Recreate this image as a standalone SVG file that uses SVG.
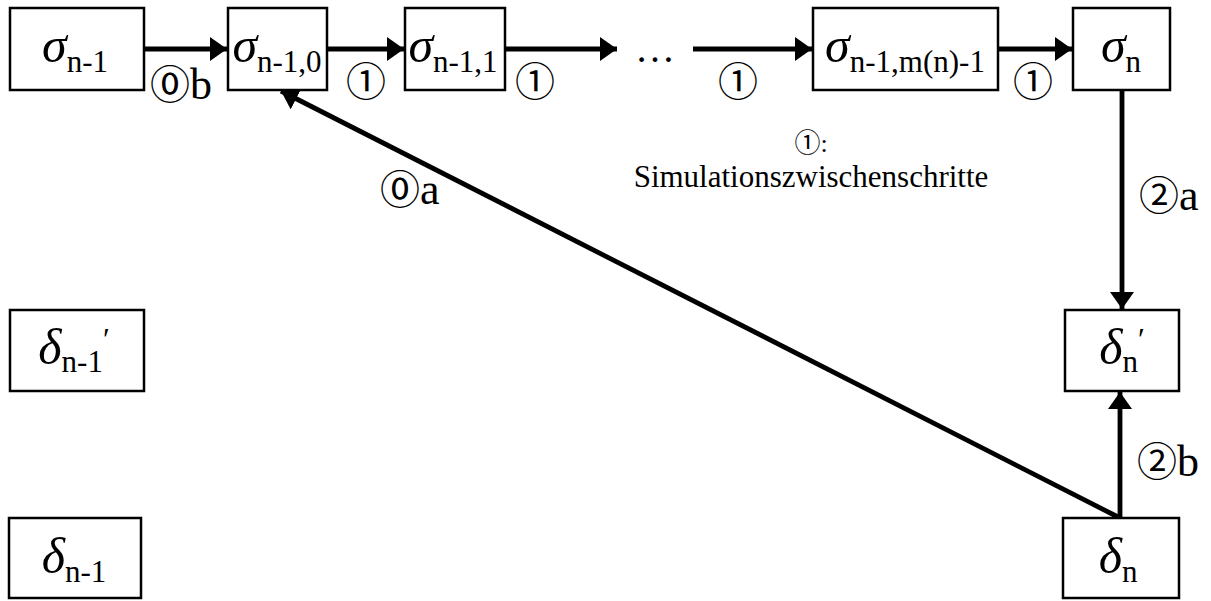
<svg xmlns="http://www.w3.org/2000/svg" width="1211" height="601" viewBox="0 0 1211 601">
<style>
.box{fill:#fff;stroke:#000;stroke-width:2.5}
.main{font-family:"Liberation Serif","Times New Roman",serif;font-style:italic;font-size:50px}
tspan.sub{font-family:"Liberation Serif","Times New Roman",serif;font-style:normal;font-size:31px}
.lbl{font-family:"Liberation Serif","Times New Roman",serif;font-size:44px}
tspan.circ,text.circ{font-family:"Noto Sans CJK JP","DejaVu Sans",sans-serif;font-size:40px}
.note{font-family:"Liberation Serif","Times New Roman",serif;font-size:31px}
.conn{stroke:#000;stroke-width:4.8;fill:none}
</style>
<defs>
<marker id="ah" markerUnits="userSpaceOnUse" markerWidth="20" markerHeight="26" refX="17" refY="12" orient="auto">
<path d="M0,0 L17,12 L0,24 Z" fill="#000"/>
</marker>
</defs>
<rect width="1211" height="601" fill="#fff"/>
<g id="connectors">
<line class="conn" x1="144" y1="49" x2="227" y2="49" marker-end="url(#ah)"/>
<line class="conn" x1="327" y1="49" x2="404" y2="49" marker-end="url(#ah)"/>
<line class="conn" x1="505" y1="49" x2="617" y2="49" marker-end="url(#ah)"/>
<line class="conn" x1="693" y1="49" x2="812" y2="49" marker-end="url(#ah)"/>
<line class="conn" x1="998" y1="49" x2="1072" y2="49" marker-end="url(#ah)"/>
<line class="conn" x1="1122" y1="90" x2="1122" y2="309" marker-end="url(#ah)"/>
<line class="conn" x1="1120" y1="518" x2="1120" y2="392" marker-end="url(#ah)"/>
<line class="conn" x1="1120" y1="518" x2="281" y2="91" marker-end="url(#ah)"/>
<text class="lbl" x="150" y="99"><tspan class="circ">⓪</tspan>b</text>
<text class="circ" x="346" y="96">①</text>
<text class="circ" x="515" y="96">①</text>
<text class="circ" x="718" y="96">①</text>
<text class="circ" x="1013" y="96">①</text>
<text class="lbl" x="380" y="204"><tspan class="circ">⓪</tspan>a</text>
<text class="lbl" x="1139" y="210"><tspan class="circ">②</tspan>a</text>
<text class="lbl" x="1137" y="476"><tspan class="circ">②</tspan>b</text>
<text x="655" y="62" text-anchor="middle" style="font-family:'Liberation Serif',serif;font-size:40px">…</text>
<text x="811" y="152" text-anchor="middle" style="font-family:'Liberation Serif',serif;font-size:26px"><tspan style="font-family:'Noto Sans CJK JP',sans-serif">①</tspan>:</text>
<text class="note" x="811" y="187" text-anchor="middle">Simulationszwischenschritte</text>
</g>
<g id="sigma_n-1">
<rect class="box" x="10" y="8" width="134" height="82"/>
<text class="main" x="75" y="62" text-anchor="middle">σ<tspan class="sub" dy="10">n-1</tspan></text>
</g>
<g id="sigma_n-1_0">
<rect class="box" x="228" y="8" width="99" height="82"/>
<text class="main" x="277" y="62" text-anchor="middle">σ<tspan class="sub" dy="10">n-1,0</tspan></text>
</g>
<g id="sigma_n-1_1">
<rect class="box" x="405" y="8" width="100" height="82"/>
<text class="main" x="453" y="62" text-anchor="middle">σ<tspan class="sub" dy="10">n-1,1</tspan></text>
</g>
<g id="sigma_n-1_mn-1">
<rect class="box" x="813" y="8" width="185" height="82"/>
<text class="main" x="905" y="62" text-anchor="middle">σ<tspan class="sub" dy="10">n-1,m(n)-1</tspan></text>
</g>
<g id="sigma_n">
<rect class="box" x="1073" y="8" width="97" height="82"/>
<text class="main" x="1121" y="62" text-anchor="middle">σ<tspan class="sub" dy="10">n</tspan></text>
</g>
<g id="delta_n-1_prime">
<rect class="box" x="10" y="310" width="134" height="81"/>
<text class="main" x="74" y="364" text-anchor="middle">δ<tspan class="sub" dy="8">n-1</tspan><tspan class="sub" dy="-22">′</tspan></text>
</g>
<g id="delta_n-1">
<rect class="box" x="9" y="518" width="132" height="80"/>
<text class="main" x="74" y="573" text-anchor="middle">δ<tspan class="sub" dy="9">n-1</tspan></text>
</g>
<g id="delta_n_prime">
<rect class="box" x="1065" y="310" width="114" height="81"/>
<text class="main" x="1122" y="364" text-anchor="middle">δ<tspan class="sub" dy="8">n</tspan><tspan class="sub" dy="-22">′</tspan></text>
</g>
<g id="delta_n">
<rect class="box" x="1063" y="518" width="116" height="80"/>
<text class="main" x="1118" y="573" text-anchor="middle">δ<tspan class="sub" dy="9">n</tspan></text>
</g>
</svg>
